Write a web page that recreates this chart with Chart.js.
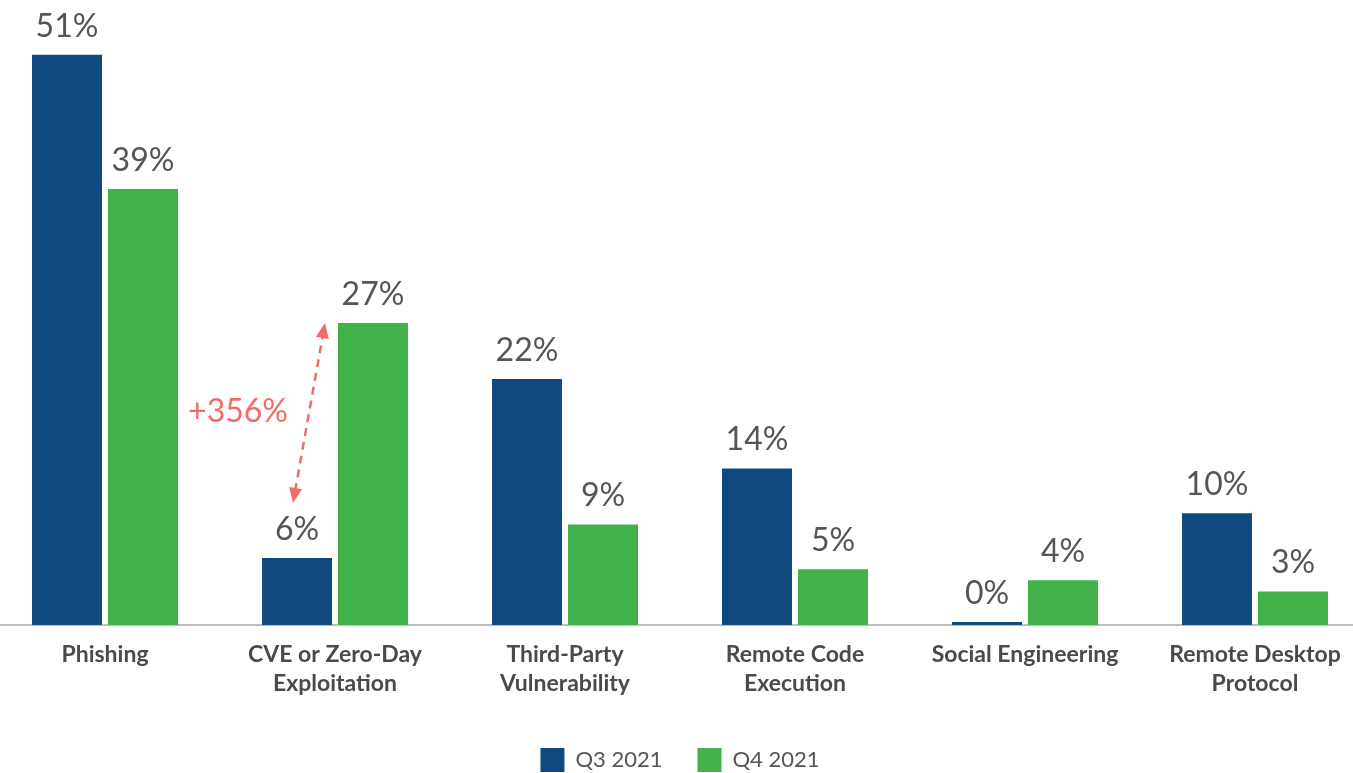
<!DOCTYPE html>
<html>
<head>
<meta charset="utf-8">
<script src="https://cdn.jsdelivr.net/npm/chart.js@4.4.1/dist/chart.umd.min.js"></script>
<style>
  html, body { margin: 0; padding: 0; background: #fff; overflow: hidden; }
  #wrap { position: absolute; left: -10px; top: 0; width: 1380px; height: 782px; }
</style>
</head>
<body>
<div id="wrap"><canvas id="vectors"></canvas></div>
<script>
const categories = [
  ['Phishing'],
  ['CVE or Zero-Day', 'Exploitation'],
  ['Third-Party', 'Vulnerability'],
  ['Remote Code', 'Execution'],
  ['Social Engineering'],
  ['Remote Desktop', 'Protocol']
];
const seriesNames = ['Q3 2021', 'Q4 2021'];
const q3Values = [51, 6, 22, 14, 0, 10];
const q4Values = [39, 27, 9, 5, 4, 3];
const changeLabel = '+356%';
const changeIndex = 1; // CVE group gets the arrow

const BLUE = '#0F497D';
const GREEN = '#41B14A';
const CORAL = '#F26B66';
const FONT = 'Lato, "Open Sans", sans-serif';

// value labels over every bar
const valueLabels = {
  id: 'valueLabels',
  afterDatasetsDraw(chart) {
    const ctx = chart.ctx;
    ctx.save();
    ctx.font = '32px ' + FONT;
    ctx.fillStyle = '#555555';
    ctx.textAlign = 'center';
    ctx.textBaseline = 'alphabetic';
    chart.data.datasets.forEach((ds, di) => {
      chart.getDatasetMeta(di).data.forEach((bar, i) => {
        ctx.fillText(ds.data[i] + '%', bar.x, bar.y - 18);
      });
    });
    ctx.restore();
  }
};

function arrowHead(ctx, x, y, angle) {
  const len = 15, half = 6.5;
  ctx.beginPath();
  ctx.moveTo(x, y);
  ctx.lineTo(x - len * Math.cos(angle) + half * Math.sin(angle), y - len * Math.sin(angle) - half * Math.cos(angle));
  ctx.lineTo(x - len * Math.cos(angle) - half * Math.sin(angle), y - len * Math.sin(angle) + half * Math.cos(angle));
  ctx.closePath();
  ctx.fill();
}

// dashed double arrow between the two CVE bars
const changeArrow = {
  id: 'changeArrow',
  afterDatasetsDraw(chart) {
    const ctx = chart.ctx;
    const a = chart.getDatasetMeta(0).data[changeIndex];
    const b = chart.getDatasetMeta(1).data[changeIndex];
    const x1 = a.x - 4, y1 = a.y - 55;
    const x2 = b.x - b.width / 2 - 13, y2 = b.y;
    const ang = Math.atan2(y2 - y1, x2 - x1);
    const inset = 12;
    ctx.save();
    ctx.strokeStyle = CORAL;
    ctx.fillStyle = CORAL;
    ctx.lineWidth = 2.5;
    ctx.setLineDash([8, 6]);
    ctx.beginPath();
    ctx.moveTo(x1 + inset * Math.cos(ang), y1 + inset * Math.sin(ang));
    ctx.lineTo(x2 - inset * Math.cos(ang), y2 - inset * Math.sin(ang));
    ctx.stroke();
    ctx.setLineDash([]);
    arrowHead(ctx, x2, y2, ang);
    arrowHead(ctx, x1, y1, ang + Math.PI);
    ctx.font = '32px ' + FONT;
    ctx.textAlign = 'right';
    ctx.textBaseline = 'middle';
    ctx.fillText(changeLabel, (x1 + x2) / 2 - 21, (y1 + y2) / 2 - 1);
    ctx.restore();
  }
};

new Chart(document.getElementById('vectors'), {
  type: 'bar',
  data: {
    labels: categories,
    datasets: [
      { label: seriesNames[0], data: q3Values, backgroundColor: BLUE, minBarLength: 3 },
      { label: seriesNames[1], data: q4Values, backgroundColor: GREEN, minBarLength: 3 }
    ]
  },
  options: {
    responsive: true,
    maintainAspectRatio: false,
    animation: false,
    categoryPercentage: 0.661,
    barPercentage: 0.921,
    layout: { padding: { top: 10, left: 0, right: 0, bottom: 0 } },
    plugins: {
      legend: {
        position: 'bottom',
        labels: {
          boxWidth: 24,
          boxHeight: 24,
          padding: 35,
          color: '#555555',
          font: { family: FONT, size: 22 }
        }
      },
      tooltip: { enabled: false }
    },
    scales: {
      x: {
        grid: { display: false, drawTicks: false },
        border: { color: '#BFBFBF', width: 2 },
        ticks: {
          color: '#4A4A4A',
          padding: 15,
          maxRotation: 0,
          autoSkip: false,
          font: { family: FONT, size: 23, weight: 'bold', lineHeight: 1.26 }
        }
      },
      y: {
        display: false,
        min: 0,
        max: 55
      }
    }
  },
  plugins: [valueLabels, changeArrow]
});
</script>
</body>
</html>
